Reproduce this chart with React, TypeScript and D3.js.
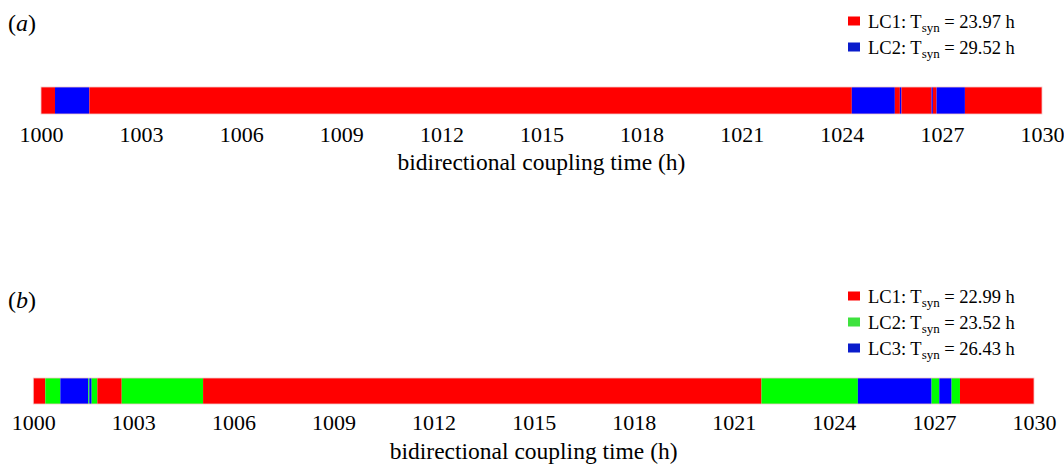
import React, { useEffect, useRef } from "react";
import * as d3 from "d3";

// panel (a): segment boundaries (h) and which limit cycle each segment is in
const edgesA = [1000, 1000.42, 1001.45, 1024.3, 1025.59, 1025.74, 1025.79, 1026.69, 1026.73, 1026.84, 1027.69, 1030];
const statesA = ["LC1", "LC2", "LC1", "LC2", "LC1", "LC2", "LC1", "LC2", "LC1", "LC2", "LC1"];
const legendA = ["LC1", "LC2"];
const periodsA = ["23.97", "29.52"];

// panel (b)
const edgesB = [1000, 1000.36, 1000.81, 1001.65, 1001.68, 1001.75, 1001.92, 1002.65, 1005.09, 1021.83, 1024.72, 1026.93, 1027.16, 1027.53, 1027.78, 1030];
const statesB = ["LC1", "LC2", "LC3", "LC2", "LC3", "LC2", "LC1", "LC2", "LC1", "LC2", "LC3", "LC2", "LC3", "LC2", "LC1"];
const legendB = ["LC1", "LC2", "LC3"];
const periodsB = ["22.99", "23.52", "26.43"];

const tickValues = d3.range(1000, 1031, 3);

const barColor2: Record<string, string> = { LC1: "#ff0000", LC2: "#0000ff" };
const barColor3: Record<string, string> = { LC1: "#ff0000", LC2: "#00ff00", LC3: "#0000ff" };
const keyColor2: Record<string, string> = { LC1: "#ff0000", LC2: "#0a1ccc" };
const keyColor3: Record<string, string> = { LC1: "#ff0000", LC2: "#3ee23e", LC3: "#0a1ccc" };

const FONT = "Liberation Serif";

function drawPanel(svg: any, opt: any) {
  const g = svg.append("g");
  const x = d3.scaleLinear().domain([1000, 1030]).range(opt.xr);

  const segs = opt.states.map((s: string, i: number) => ({ s, a: opt.edges[i], b: opt.edges[i + 1] }));
  g.selectAll("rect.seg")
    .data(segs)
    .join("rect")
    .attr("class", "seg")
    .attr("x", (d: any) => x(d.a))
    .attr("width", (d: any) => Math.max(x(d.b) - x(d.a), 0.8))
    .attr("y", opt.barY)
    .attr("height", opt.barH)
    .attr("fill", (d: any) => opt.colors[d.s]);

  g.append("rect")
    .attr("x", x(1000))
    .attr("y", opt.barY)
    .attr("width", x(1030) - x(1000))
    .attr("height", opt.barH)
    .attr("fill", "none")
    .attr("stroke", "#f3c8c8")
    .attr("stroke-width", 0.8);

  const axis = d3.axisBottom(x).tickValues(tickValues).tickSize(0).tickPadding(0).tickFormat(d3.format("d"));
  const ax = g.append("g").attr("transform", `translate(0, ${opt.tickY})`).call(axis);
  ax.attr("font-family", null).attr("font-size", null);
  ax.select(".domain").remove();
  ax.selectAll("text")
    .attr("dy", 0)
    .attr("y", 0)
    .style("font-family", FONT)
    .style("font-size", "22px")
    .attr("fill", "#000");

  g.append("text")
    .attr("x", (x(1000) + x(1030)) / 2)
    .attr("y", opt.titleY)
    .attr("text-anchor", "middle")
    .style("font-family", FONT)
    .style("font-size", "23.5px")
    .text("bidirectional coupling time (h)");

  const lab = g.append("text")
    .attr("x", 8)
    .attr("y", opt.labelY)
    .style("font-family", FONT)
    .style("font-size", "24px");
  lab.append("tspan").text("(");
  lab.append("tspan").style("font-style", "italic").text(opt.label);
  lab.append("tspan").text(")");

  opt.legend.forEach((lc: string, i: number) => {
    const cy = opt.legendY + i * 26;
    g.append("rect")
      .attr("x", 848)
      .attr("y", cy - 4.5)
      .attr("width", 12)
      .attr("height", 9)
      .attr("fill", opt.keyColors[lc]);
    const t = g.append("text")
      .attr("x", 868)
      .attr("y", cy + 7)
      .style("font-family", FONT)
      .style("font-size", "18.5px");
    t.append("tspan").text(`${lc}: T`);
    t.append("tspan").style("font-size", "13px").attr("dy", 4).text("syn");
    t.append("tspan").attr("dy", -4).text(` = ${opt.periods[i]} h`);
  });
}

export default function App() {
  const ref = useRef<SVGSVGElement>(null);

  useEffect(() => {
    const svg = d3.select(ref.current);
    svg.selectAll("*").remove();
    drawPanel(svg, {
      xr: [41, 1042],
      edges: edgesA,
      states: statesA,
      colors: barColor2,
      keyColors: keyColor2,
      legend: legendA,
      periods: periodsA,
      barY: 87,
      barH: 27,
      tickY: 142,
      titleY: 170,
      label: "a",
      labelY: 31,
      legendY: 21,
    });
    drawPanel(svg, {
      xr: [33.3, 1034],
      edges: edgesB,
      states: statesB,
      colors: barColor3,
      keyColors: keyColor3,
      legend: legendB,
      periods: periodsB,
      barY: 378,
      barH: 26,
      tickY: 430,
      titleY: 459,
      label: "b",
      labelY: 308,
      legendY: 296,
    });
  }, []);

  return (
    <svg
      ref={ref}
      width={1064}
      height={464}
      style={{ position: "absolute", left: 0, top: 0, background: "#fff", fontFamily: FONT }}
    />
  );
}
